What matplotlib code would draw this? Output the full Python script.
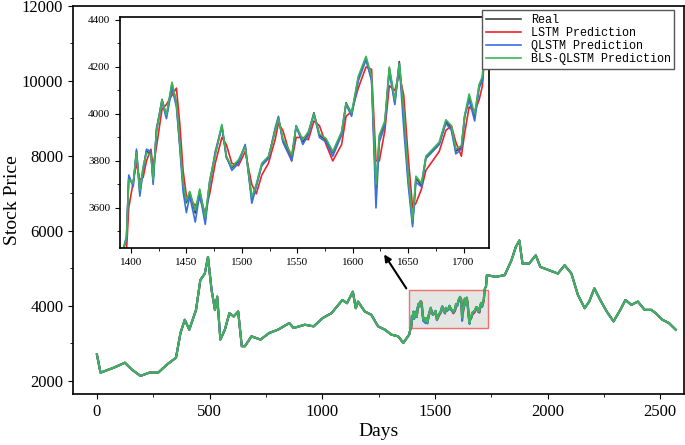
import matplotlib.pyplot as plt
from matplotlib.patches import Rectangle
from matplotlib.ticker import MultipleLocator

# main view, coarse trace of the real price
main_days = [0, 16, 75, 124, 154, 193, 233, 272, 312, 351, 371, 390, 410, 440, 459, 479,
             493, 509, 524, 534, 548, 568, 588, 607, 627, 643, 657, 686, 726, 765, 804, 854,
             873, 923, 962, 1002, 1041, 1090, 1110, 1136, 1149, 1159, 1189, 1218, 1248, 1278,
             1307, 1337, 1360, 1386]
main_vals = [2705, 2220, 2352, 2485, 2308, 2132, 2220, 2220, 2440, 2617, 3278, 3630, 3366,
             3894, 4687, 4863, 5304, 4423, 3894, 4247, 3101, 3366, 3806, 3718, 3850, 2925,
             2925, 3189, 3101, 3278, 3366, 3542, 3410, 3498, 3454, 3674, 3806, 4159, 4071,
             4379, 3938, 4115, 3850, 3762, 3454, 3366, 3233, 3189, 3013, 3233]
tail_days = [1727, 1731, 1770, 1810, 1840, 1859, 1875, 1889, 1918, 1948, 1968, 2007, 2046,
             2076, 2106, 2135, 2165, 2185, 2208, 2234, 2263, 2293, 2323, 2346, 2372, 2401,
             2431, 2461, 2480, 2510, 2539, 2569]
tail_vals = [4511, 4820, 4775, 4820, 5216, 5568, 5744, 5128, 5128, 5348, 5040, 4951, 4863,
             5084, 4863, 4291, 3938, 4115, 4467, 4159, 3850, 3586, 3894, 4159, 4026, 4115,
             3894, 3894, 3806, 3630, 3542, 3366]

# zoomed window
zoom_days = [1392, 1396, 1398, 1402, 1405, 1408, 1411, 1414, 1418, 1420, 1423, 1428, 1432,
             1437, 1441, 1444, 1447, 1450, 1453, 1458, 1462, 1467, 1471, 1476, 1482, 1486,
             1491, 1497, 1503, 1509, 1513, 1518, 1524, 1530, 1533, 1537, 1545, 1549, 1555,
             1560, 1565, 1570, 1576, 1582, 1590, 1594, 1599, 1605, 1612, 1617, 1621, 1624,
             1629, 1633, 1638, 1642, 1646, 1650, 1654, 1657, 1662, 1666, 1672, 1678, 1684,
             1689, 1693, 1698, 1701, 1705, 1710, 1714, 1717, 1720, 1723]
real = [3402, 3477, 3727, 3700, 3842, 3666, 3770, 3842, 3830, 3713, 3930, 4062, 3990,
        4128, 4047, 3872, 3696, 3622, 3666, 3578, 3673, 3550, 3713, 3830, 3947, 3815,
        3770, 3800, 3865, 3638, 3696, 3785, 3815, 3930, 3983, 3887, 3815, 3947, 3880,
        3918, 4005, 3910, 3887, 3835, 3918, 4048, 3998, 4150, 4238, 4150, 3666, 3903,
        3962, 4194, 4048, 4223, 4005, 3727, 3535, 3727, 3696, 3815, 3842, 3872, 3969,
        3940, 3842, 3856, 3990, 4070, 3990, 4120, 4150, 4400, 4488]
lstm = [3390, 3420, 3600, 3710, 3790, 3720, 3730, 3800, 3850, 3770, 3860, 4020, 4040,
        4080, 4110, 3960, 3760, 3650, 3640, 3610, 3640, 3580, 3660, 3790, 3900, 3870,
        3790, 3780, 3840, 3700, 3660, 3740, 3790, 3890, 3960, 3930, 3800, 3900, 3900,
        3890, 3970, 3950, 3870, 3800, 3870, 3990, 4010, 4110, 4200, 4190, 3800, 3800,
        3930, 4120, 4100, 4170, 4080, 3820, 3600, 3620, 3680, 3760, 3800, 3840, 3930,
        3950, 3880, 3820, 3920, 4030, 4010, 4060, 4120, 4330, 4470]
qlstm = [3400, 3470, 3740, 3690, 3850, 3650, 3760, 3850, 3840, 3700, 3940, 4050, 3980,
         4110, 4030, 3860, 3670, 3580, 3650, 3540, 3660, 3530, 3700, 3840, 3950, 3820,
         3760, 3790, 3870, 3620, 3690, 3780, 3810, 3940, 3990, 3880, 3800, 3950, 3870,
         3910, 4000, 3900, 3880, 3820, 3910, 4040, 3990, 4140, 4230, 4140, 3600, 3880,
         3950, 4180, 4040, 4210, 3940, 3700, 3520, 3710, 3690, 3810, 3840, 3870, 3960,
         3930, 3830, 3850, 3990, 4060, 3970, 4110, 4140, 4390, 4480]
bls = [3405, 3480, 3720, 3705, 3835, 3675, 3775, 3835, 3825, 3720, 3925, 4060, 3995,
       4135, 4045, 3880, 3705, 3630, 3670, 3590, 3680, 3560, 3715, 3825, 3955, 3820,
       3775, 3805, 3860, 3645, 3700, 3790, 3820, 3925, 3980, 3895, 3825, 3950, 3890,
       3925, 4000, 3915, 3895, 3840, 3925, 4045, 4005, 4160, 4245, 4160, 3700, 3910,
       3970, 4200, 4060, 4215, 4015, 3740, 3545, 3735, 3705, 3820, 3850, 3880, 3975,
       3950, 3850, 3865, 3995, 4085, 4000, 4125, 4160, 4405, 4490]

series_names = ["Real", "LSTM Prediction", "QLSTM Prediction", "BLS-QLSTM Prediction"]
colors = ["#404040", "#e8262b", "#3a6fe0", "#3cb35a"]

all_days = main_days + zoom_days + tail_days
all_real = main_vals + real + tail_vals
all_lstm = main_vals + lstm + tail_vals
all_q = main_vals + qlstm + tail_vals
all_bls = main_vals + bls + tail_vals

plt.rcParams["font.family"] = "Liberation Serif"

fig = plt.figure(figsize=(6.85, 4.45), dpi=100)
ax = fig.add_axes([0.1066, 0.1146, 0.892, 0.872])
for ys, c in zip([all_real, all_lstm, all_q, all_bls], colors):
    ax.plot(all_days, ys, color=c, lw=1.5)
ax.set_xlim(-106, 2606)
ax.set_ylim(1650, 12000)
ax.xaxis.set_major_locator(MultipleLocator(500))
ax.xaxis.set_minor_locator(MultipleLocator(250))
ax.yaxis.set_major_locator(MultipleLocator(2000))
ax.yaxis.set_minor_locator(MultipleLocator(1000))
ax.tick_params(labelsize=12, direction="out")
ax.set_xlabel("Days", fontsize=14, labelpad=2)
ax.set_ylabel("Stock Price", fontsize=14, labelpad=1)
for s in ax.spines.values():
    s.set_linewidth(1.2)

ax.add_patch(Rectangle((1385, 3400), 350, 1020, facecolor="#e4e6e4", edgecolor="#f07070",
                       lw=1, zorder=0.5))
ax.annotate("", xy=(1268, 5436), xytext=(1380, 4405),
            arrowprops=dict(arrowstyle="-|>", color="black", lw=1.5))

ins = fig.add_axes([0.175, 0.443, 0.539, 0.519])
lines = []
for ys, c, n in zip([real, lstm, qlstm, bls], colors, series_names):
    lines += ins.plot(zoom_days, ys, color=c, lw=1.2, label=n)
ins.set_xlim(1390, 1723)
ins.set_ylim(3430, 4413)
ins.xaxis.set_major_locator(MultipleLocator(50))
ins.xaxis.set_minor_locator(MultipleLocator(25))
ins.yaxis.set_major_locator(MultipleLocator(200))
ins.yaxis.set_minor_locator(MultipleLocator(100))
ins.tick_params(labelsize=8)
for s in ins.spines.values():
    s.set_linewidth(1.2)

fig.legend(handles=lines, loc="upper right", bbox_to_anchor=(0.993, 0.99),
           prop={"family": "Liberation Mono", "size": 8.5}, fancybox=False,
           edgecolor="#555555", framealpha=1, handlelength=3, borderpad=0.3,
           labelspacing=0.1)

fig.savefig("out.png", dpi=100)
